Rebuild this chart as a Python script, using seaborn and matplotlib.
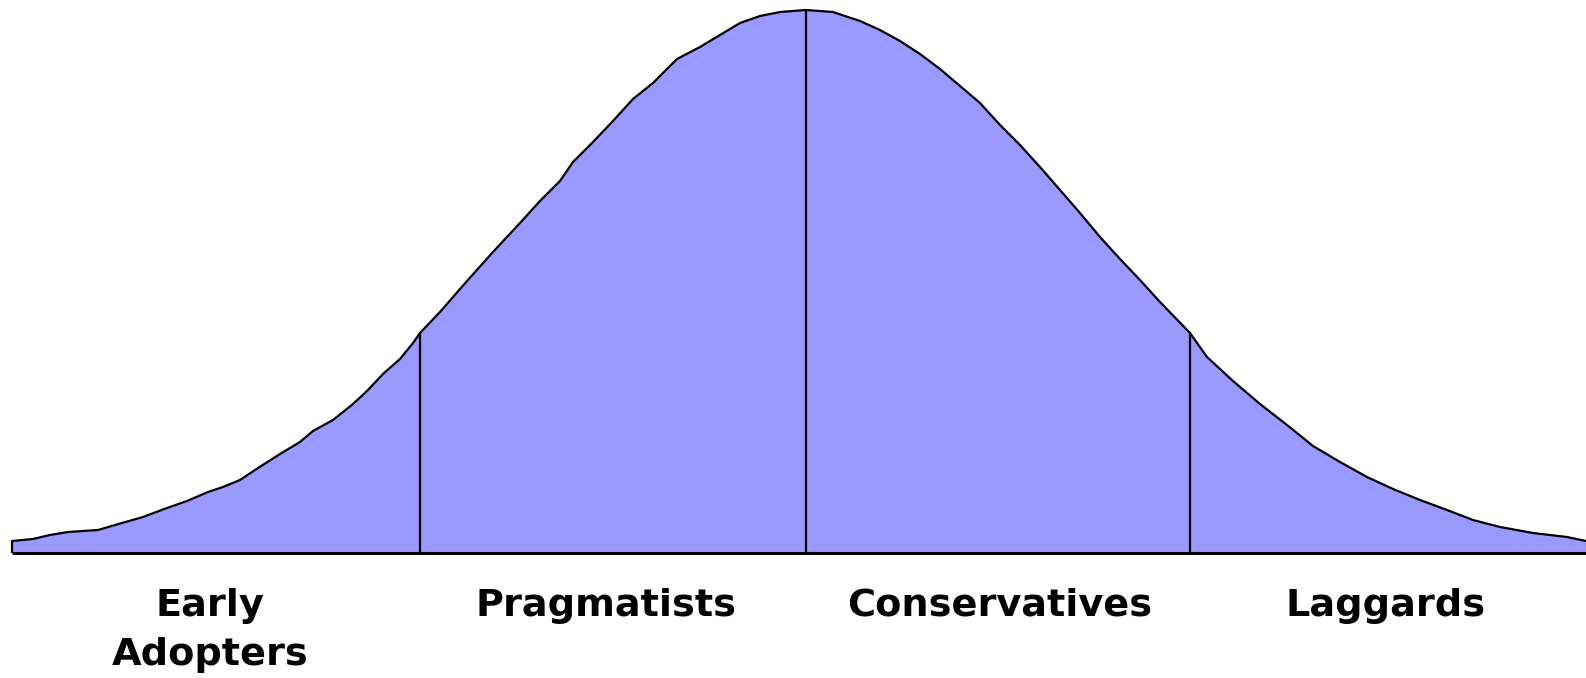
import numpy as np
import pandas as pd
import matplotlib
matplotlib.use("Agg")
import matplotlib.pyplot as plt
import seaborn as sns

#================================
# DATA (pixel-ish units)
#================================
curve_x = [12, 33, 50, 68, 98, 122, 143, 167, 187, 208, 223, 240, 258, 280,
           300, 313, 333, 353, 367, 383, 400, 413, 420, 440, 467, 493, 520,
           540, 560, 573, 593, 613, 633, 653, 677, 700, 720, 740, 760, 780,
           806, 833, 860, 880, 900, 920, 940, 960, 980, 1000, 1020, 1040,
           1060, 1080, 1100, 1120, 1140, 1160, 1190, 1207, 1233, 1260, 1287,
           1313, 1340, 1367, 1393, 1420, 1447, 1473, 1500, 1533, 1567, 1586]
curve_h = [12, 14, 18, 21, 23, 30, 36, 45, 52, 61, 66, 73, 85, 99,
           111, 122, 133, 149, 162, 179, 194, 210, 220, 241, 272, 301, 330,
           352, 372, 391, 411, 432, 454, 470, 494, 506, 518, 530, 537, 541,
           543, 541, 532, 523, 512, 499, 484, 467, 450, 428, 408, 386,
           363, 340, 316, 294, 273, 251, 220, 196, 172, 149, 128,
           107, 91, 76, 64, 53, 43, 33, 26, 20, 16, 12]

divider_x = [420, 806, 1190]

labels = ["Early\nAdopters", "Pragmatists", "Conservatives", "Laggards"]
label_x = [210, 606, 1000, 1386]

FILL = "#9999ff"

#================================
# PLOT
#================================
sns.set_style("white")

df = pd.DataFrame({"x": curve_x, "h": curve_h})

fig = plt.figure(figsize=(15.86, 6.78), dpi=100)
ax = fig.add_axes([0, 0, 1, 1])

ax.fill_between(df["x"], 0, df["h"], color=FILL, linewidth=0)
sns.lineplot(data=df, x="x", y="h", ax=ax, color="black", linewidth=1.6,
             sort=False, estimator=None)

# outline pieces: left edge, baseline, dividers
ax.vlines(curve_x[0], 0, curve_h[0], color="black", linewidth=1.6)
ax.hlines(0, curve_x[0], curve_x[-1], color="black", linewidth=2.2)
div_h = np.interp(divider_x, curve_x, curve_h)
ax.vlines(divider_x, 0, div_h, color="black", linewidth=1.6)

for lbl, lx in zip(labels, label_x):
    ax.text(lx, -35, lbl, ha="center", va="top", multialignment="center",
            fontsize=27.5, fontweight="heavy", family="DejaVu Sans",
            linespacing=1.45, color="black")

ax.set_xlim(0, 1586)
ax.set_ylim(-125, 553)
ax.axis("off")

plt.savefig("out.png", dpi=100)
plt.close()
